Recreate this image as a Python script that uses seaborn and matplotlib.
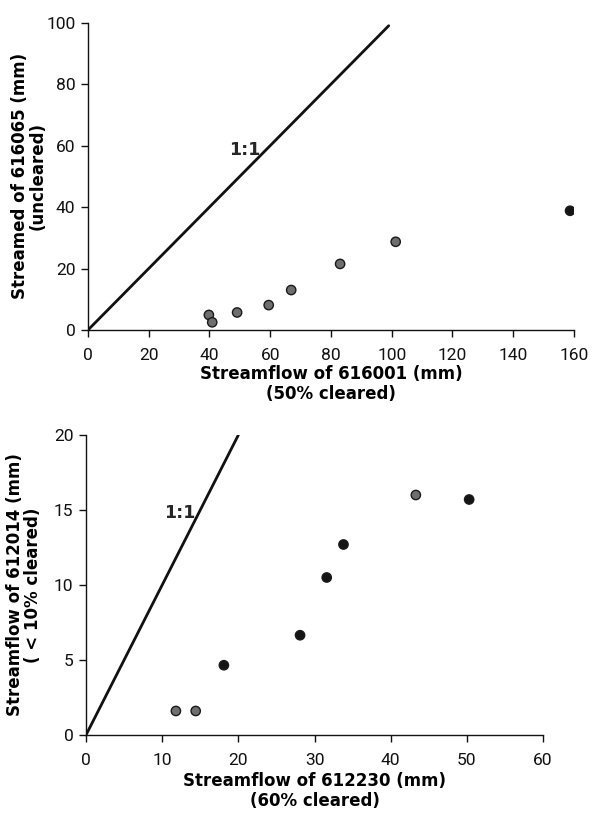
import matplotlib
matplotlib.use("Agg")
import matplotlib.pyplot as plt
import seaborn as sns
import pandas as pd

sns.set_theme(style="ticks")
plt.rcParams['font.family'] = ['DejaVu Sans']

# ---- data (top panel) ----
top_x = [39.8, 40.9, 49.1, 59.5, 66.9, 83.0, 101.3, 158.7]
top_y = [4.9, 2.5, 5.7, 8.1, 13.0, 21.5, 28.7, 38.8]
top_shade = ["grey", "grey", "grey", "grey", "grey", "grey", "grey", "black"]
top_line_x = [0, 99]
top_line_y = [0, 99]
top_xticks = [0, 20, 40, 60, 80, 100, 120, 140, 160]
top_yticks = [0, 20, 40, 60, 80, 100]

# ---- data (bottom panel) ----
bot_x = [11.8, 14.4, 18.1, 28.1, 31.6, 33.8, 43.3, 50.3]
bot_y = [1.6, 1.6, 4.65, 6.65, 10.5, 12.7, 16.0, 15.7]
bot_shade = ["grey", "grey", "black", "black", "black", "black", "grey", "black"]
bot_line_x = [0, 20]
bot_line_y = [0, 20]
bot_xticks = [0, 10, 20, 30, 40, 50, 60]
bot_yticks = [0, 5, 10, 15, 20]

palette = {"grey": "#6e6e6e", "black": "#151515"}

fig = plt.figure(figsize=(5.92, 8.16), dpi=100)
ax1 = fig.add_axes([0.1486, 0.5956, 0.8210, 0.3766])
ax2 = fig.add_axes([0.1453, 0.0993, 0.7720, 0.3676])

tick_font = dict(family=['Roboto', 'DejaVu Sans'], weight='normal', size=12.5, color='#111111')
label_font = dict(family=['DejaVu Sans'], weight='bold', size=12, color='black')


def panel(ax, x, y, shade, lx, ly, xt, yt, xlabel, ylabel, tx, ty,
          xtpad, xpad, ypad):
    df = pd.DataFrame({"x": x, "y": y, "shade": shade})
    ldf = pd.DataFrame({"x": lx, "y": ly})
    sns.lineplot(data=ldf, x="x", y="y", ax=ax, color="#111111", linewidth=2.0)
    sns.scatterplot(data=df, x="x", y="y", hue="shade", palette=palette, ax=ax,
                    s=45, edgecolor="#1a1a1a", linewidth=1.0, legend=False, zorder=3)
    ax.set_xlim(xt[0], xt[-1])
    ax.set_ylim(yt[0], yt[-1])
    ax.set_xticks(xt)
    ax.set_yticks(yt)
    ax.set_xticklabels([str(v) for v in xt], fontdict=tick_font)
    ax.set_yticklabels([str(v) for v in yt], fontdict=tick_font)
    ax.tick_params(direction='out', length=5, width=1, color='#111111')
    ax.tick_params(axis='x', pad=xtpad)
    ax.tick_params(axis='y', pad=4)
    for s in ['top', 'right']:
        ax.spines[s].set_visible(False)
    for s in ['left', 'bottom']:
        ax.spines[s].set_color('#111111')
        ax.spines[s].set_linewidth(1.0)
    ax.set_xlabel(xlabel, fontdict=label_font, linespacing=1.1, labelpad=xpad)
    ax.set_ylabel(ylabel, fontdict=label_font, linespacing=0.95, labelpad=ypad)
    ax.text(tx, ty, "1:1", fontdict=dict(family=['DejaVu Sans'], weight='bold', size=12.5),
            ha='center', va='center')
    ax.set_facecolor('white')


panel(ax1, top_x, top_y, top_shade, top_line_x, top_line_y, top_xticks, top_yticks,
      "Streamflow of 616001 (mm)\n(50% cleared)",
      "Streamed of 616065 (mm)\n(uncleared)", 51.5, 58.5, 8, 1.5, 0)
panel(ax2, bot_x, bot_y, bot_shade, bot_line_x, bot_line_y, bot_xticks, bot_yticks,
      "Streamflow of 612230 (mm)\n(60% cleared)",
      "Streamflow of 612014 (mm)\n( < 10% cleared)", 12.3, 14.8, 8, 3, 9)

fig.savefig("out.png", dpi=100, facecolor='white')
